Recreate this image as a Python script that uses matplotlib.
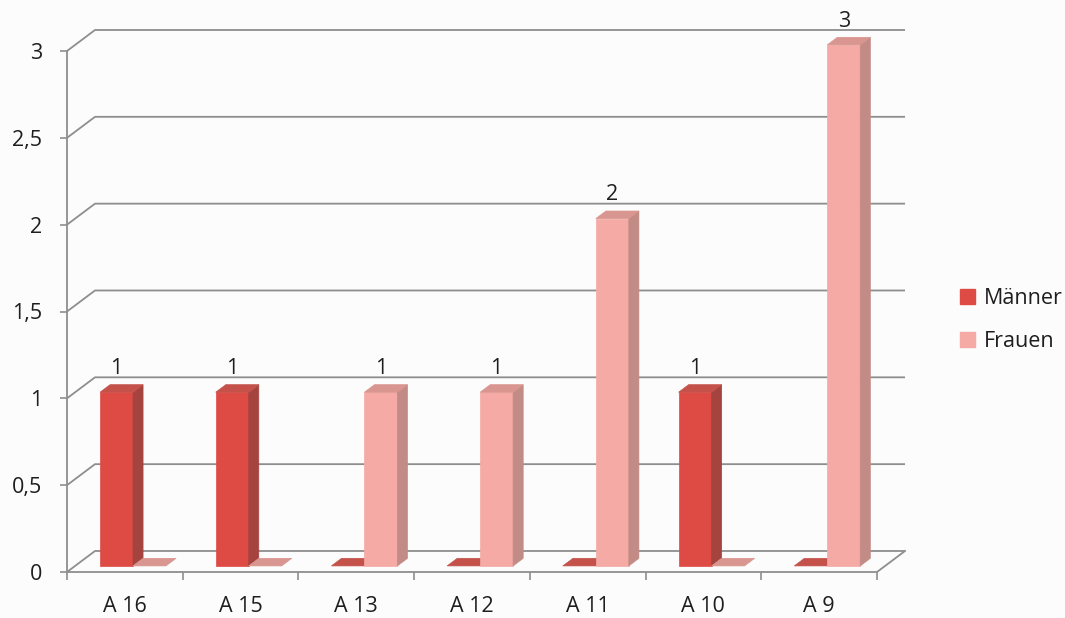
import matplotlib
matplotlib.use("Agg")
import matplotlib.pyplot as plt
from matplotlib.patches import Polygon, Patch
from matplotlib.ticker import FixedLocator, FuncFormatter

# --- data -------------------------------------------------------------
categories = ["A 16", "A 15", "A 13", "A 12", "A 11", "A 10", "A 9"]
maenner = [1, 1, 0, 0, 0, 1, 0]
frauen = [0, 0, 1, 1, 2, 0, 3]
series_names = ["Männer", "Frauen"]
y_ticks = [0, 0.5, 1, 1.5, 2, 2.5, 3]

# --- style ------------------------------------------------------------
colors = {
    "Männer": dict(front="#de4b44", side="#a5443e", top="#c4524b"),
    "Frauen": dict(front="#f5aaa5", side="#c38b85", top="#d9958f"),
}
grid_color = "#8e8e8e"
text_color = "#1e1e1e"
font = "Open Sans"
fs = 15.5

W, H, DPI = 1065, 618, 100
fig = plt.figure(figsize=(W / DPI, H / DPI), dpi=DPI, facecolor="#fcfcfc")
ax = fig.add_axes([67 / W, (H - 572) / H, 810 / W, 521 / H])
ax.set_facecolor("none")

n = len(categories)
ax.set_xlim(0, n)
ax.set_ylim(0, 3)

# oblique depth of the chart box, in data units
DX, DY = 0.242, 0.121
bar_w = 0.285
f0, f1 = 0.29, 0.65  # front / back of the bars as a fraction of box depth


def poly(pts, color, z):
    ax.add_patch(Polygon(pts, closed=True, facecolor=color, edgecolor=color,
                         linewidth=0.5, clip_on=False, zorder=z))


# back wall grid lines with oblique connectors to the front axis
for t in y_ticks:
    ax.plot([0, DX, n + DX], [t, t + DY, t + DY], color=grid_color,
            lw=1.3, clip_on=False, zorder=1, solid_capstyle="butt")
# floor outline
ax.plot([0, n, n + DX], [0, 0, DY], color=grid_color, lw=1.3,
        clip_on=False, zorder=1)

# bars
for i in range(n):
    for k, (name, vals) in enumerate(zip(series_names, [maenner, frauen])):
        v = vals[i]
        c = colors[name]
        x0 = i + 0.5 - bar_w + k * bar_w + f0 * DX
        x1 = x0 + bar_w
        y0 = f0 * DY
        y1 = y0 + v
        ddx, ddy = (f1 - f0) * DX, (f1 - f0) * DY
        z = 3 + i * 2 + k
        if v > 0:
            poly([(x0, y0), (x1, y0), (x1, y1), (x0, y1)], c["front"], z)
            poly([(x1, y0), (x1 + ddx, y0 + ddy), (x1 + ddx, y1 + ddy),
                  (x1, y1)], c["side"], z)
        poly([(x0, y1), (x1, y1), (x1 + ddx, y1 + ddy), (x0 + ddx, y1 + ddy)],
             c["top"], z)
        if v > 0:
            ax.annotate(f"{v:g}", ((x0 + x1) / 2, y1 + ddy), xytext=(0, 4),
                        textcoords="offset points", ha="center", va="bottom",
                        fontsize=fs, color=text_color, family=font,
                        zorder=30, annotation_clip=False)

# axes, ticks and labels
for s in ["top", "right", "bottom"]:
    ax.spines[s].set_visible(False)
ax.spines["left"].set_color(grid_color)
ax.spines["left"].set_linewidth(1.3)

ax.yaxis.set_major_locator(FixedLocator(y_ticks))
ax.yaxis.set_major_formatter(FuncFormatter(lambda v, p: f"{v:g}".replace(".", ",")))
ax.tick_params(axis="y", length=5, width=1.2, color=grid_color, pad=13,
               labelsize=fs, labelcolor=text_color)

ax.set_xticks([i + 0.5 for i in range(n)])
ax.set_xticklabels(categories)
ax.xaxis.set_minor_locator(FixedLocator(list(range(n + 1))))
ax.tick_params(axis="x", which="major", length=0, pad=17, labelsize=fs,
               labelcolor=text_color)
ax.tick_params(axis="x", which="minor", length=6, width=1.2, color=grid_color)
for lab in ax.get_xticklabels() + ax.get_yticklabels():
    lab.set_family(font)

handles = [Patch(facecolor=colors[s]["front"], edgecolor=colors[s]["front"])
           for s in series_names]
fig.legend(handles, series_names, loc="center left",
           bbox_to_anchor=(941 / W, 1 - 320 / H), frameon=False,
           handlelength=0.7, handleheight=0.7, handletextpad=0.4,
           labelspacing=1.0, prop=dict(family=font, size=fs),
           labelcolor=text_color)

fig.savefig("out.png", dpi=DPI, facecolor=fig.get_facecolor())
